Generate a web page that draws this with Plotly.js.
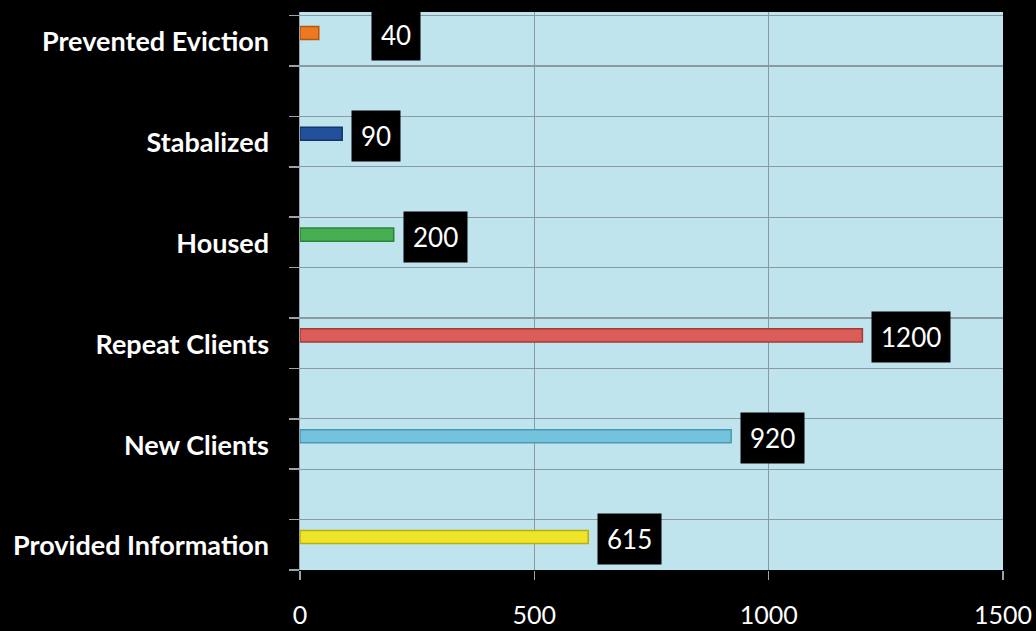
<!DOCTYPE html>
<html>
<head>
<meta charset="utf-8">
<script src="https://cdn.plot.ly/plotly-3.0.1.min.js"></script>
<style>html,body{margin:0;padding:0;background:#000;}#chart{width:1036px;height:631px;}</style>
</head>
<body>
<div id="chart"></div>
<script>
const categories = ["Provided Information", "New Clients", "Repeat Clients", "Housed", "Stabalized", "Prevented Eviction"];
const values = [615, 920, 1200, 200, 90, 40];
const barColors = ["#EDE52A", "#74C3DC", "#DB5D5A", "#45AE50", "#23509C", "#EB7A22"];
const barEdges = ["#B8AE10", "#4A98B4", "#A63836", "#2C8236", "#143567", "#B8560E"];
const xTicks = [0, 500, 1000, 1500];

const trace = {
  type: "bar",
  orientation: "h",
  y: categories,
  x: values,
  width: 0.13,
  marker: { color: barColors, line: { color: barEdges, width: 1.5 } },
  hoverinfo: "skip",
  yaxis: "y"
};
const gridTrace = { type: "scatter", x: [null], y: [null], yaxis: "y2", showlegend: false, hoverinfo: "skip" };

const yRange = [-0.327, 5.208];
const annotations = categories.map((c, i) => ({
  x: values[i], y: c, xref: "x", yref: "y",
  text: String(values[i]),
  showarrow: false, xanchor: "left", yanchor: "middle",
  xshift: values[i] < 60 ? 52 : 9, yshift: -2,
  bgcolor: "#000", borderpad: 9,
  font: { family: "Lato, 'Open Sans', sans-serif", size: 26, color: "#fff" }
}));

const layout = {
  width: 1036, height: 631,
  margin: { l: 300, r: 33, t: 12, b: 61, pad: 0 },
  paper_bgcolor: "#000",
  plot_bgcolor: "#BFE4EE",
  showlegend: false,
  bargap: 0,
  xaxis: {
    range: [0, 1500], tickvals: xTicks, ticktext: xTicks.map(String),
    showgrid: true, gridcolor: "#8A9AA0", gridwidth: 1.2,
    zeroline: false, showline: false,
    ticks: "outside", ticklen: 9, tickcolor: "#9AA4A8", tickwidth: 1.5,
    ticklabelstandoff: 14,
    tickfont: { family: "Lato, 'Open Sans', sans-serif", size: 25, color: "#fff" },
    fixedrange: true
  },
  yaxis: {
    type: "category", range: yRange,
    categoryorder: "array", categoryarray: categories,
    showgrid: false, zeroline: false, showline: false, ticks: "",
    ticklabelstandoff: 30, ticklabelshift: 9,
    tickfont: { family: "Lato, 'Open Sans', sans-serif", size: 27, color: "#fff", weight: "bold" },
    fixedrange: true
  },
  yaxis2: {
    overlaying: "y", side: "left", range: yRange,
    tick0: -0.327, dtick: 0.5,
    showgrid: true, gridcolor: "#8A9AA0", gridwidth: 1.2,
    showticklabels: false, zeroline: false,
    showline: true, linecolor: "#9AA4A8", linewidth: 1.5,
    ticks: "outside", ticklen: 10, tickcolor: "#9AA4A8", tickwidth: 1.5,
    fixedrange: true
  },
  annotations: annotations
};

Plotly.newPlot("chart", [gridTrace, trace], layout, { displayModeBar: false, staticPlot: true });
</script>
</body>
</html>
